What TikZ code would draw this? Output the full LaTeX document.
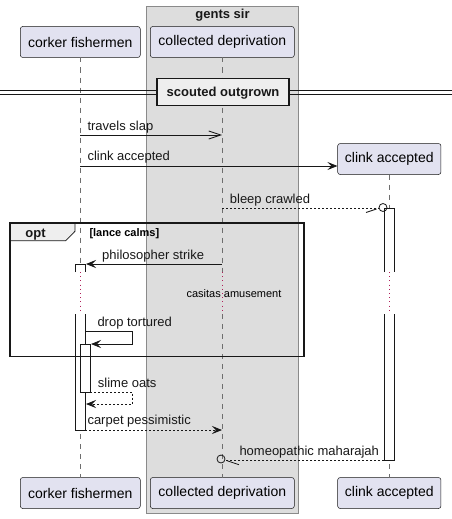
\documentclass[tikz,border=0pt]{standalone}
\usepackage{fontspec}
\setmainfont{Liberation Sans}
\usetikzlibrary{arrows.meta}
\definecolor{partfill}{HTML}{E2E2F0}
\definecolor{ink}{HTML}{181818}
\definecolor{boxfill}{HTML}{DDDDDD}
\definecolor{boxdraw}{HTML}{8A8A8A}
\definecolor{tabfill}{HTML}{EEEEEE}
\definecolor{lifecol}{HTML}{6E6E6E}
\definecolor{delaycol}{HTML}{B0205A}
\tikzset{
  part/.style={draw=ink, line width=0.5pt, fill=partfill, rounded corners=2.5pt,
    minimum height=31pt, inner sep=0pt, font=\fontsize{14}{16}\selectfont},
  lifeline/.style={draw=lifecol, line width=0.6pt, dash pattern=on 5pt off 5pt},
  delayline/.style={draw=delaycol, line width=0.9pt, dash pattern=on 1pt off 3.2pt},
  actbar/.style={draw=ink, line width=0.8pt, fill=white},
  msg/.style={draw=ink, line width=0.8pt},
  dmsg/.style={msg, dash pattern=on 2pt off 2pt},
  filltip/.style={-{Stealth[length=10pt,width=8pt,inset=4pt]}},
  opentip/.style={-{Straight Barb[length=12pt,width=8pt,line width=0.8pt]}},
  lbl/.style={anchor=base west, inner sep=0pt, font=\fontsize{13}{15}\selectfont, text=ink},
  boldlbl/.style={inner sep=0pt, font=\fontsize{13}{15}\selectfont\bfseries, text=ink},
}
\begin{document}
\begin{tikzpicture}[x=1pt,y=-1pt]
\useasboundingbox (0,0) rectangle (452,519);
% group box
\draw[draw=boxdraw, fill=boxfill, line width=0.8pt] (146.7,6) rectangle (298.3,513.3);
\node[boldlbl, anchor=base] (grptitle) at (222.5,18.5) {gents sir};

% participants
\node[part, minimum width=120pt] (cfT) at (80.3,42) {corker fishermen};
\node[part, minimum width=144pt] (cdT) at (222.3,42) {collected deprivation};
\node[part, minimum width=103.3pt] (caT) at (389.3,159) {clink accepted};
\node[part, minimum width=120pt] (cfB) at (80.3,493) {corker fishermen};
\node[part, minimum width=144pt] (cdB) at (222.3,493) {collected deprivation};
\node[part, minimum width=103.3pt] (caB) at (389.3,493) {clink accepted};

% delay coordinates
\coordinate (cf1) at (80,272);  \coordinate (cf2) at (80,314);
\coordinate (cd1) at (222,272); \coordinate (cd2) at (222,314);
\coordinate (ca1) at (389,272); \coordinate (ca2) at (389,314);

% lifelines
\draw[lifeline] (80,57.5) -- (cf1);
\draw[lifeline] (cf2) -- (80,477.5);
\draw[lifeline] (222,57.5) -- (cd1);
\draw[lifeline] (cd2) -- (222,477.5);
\draw[lifeline] (389,174.5) -- (ca1);
\draw[lifeline] (ca2) -- (389,477.5);
\draw[delayline] (cf1) -- (cf2);
\draw[delayline] (cd1) -- (cd2);
\draw[delayline] (ca1) -- (ca2);
\node[inner sep=0pt, font=\fontsize{11}{13}\selectfont, anchor=base] (delaytxt) at (234,297) {casitas amusement};

% activation bars
\fill[white] (75.3,264) rectangle (85.3,272);
\draw[msg] (75.3,272) -- (75.3,264) -- (85.3,264) -- (85.3,272);
\draw[actbar] (75.3,314) -- (75.3,430) -- (85.3,430) -- (85.3,314);
\fill[white] (384,208) rectangle (394,272);
\draw[msg] (384,272) -- (384,208) -- (394,208) -- (394,272);
\draw[actbar] (384,314) -- (384,460) -- (394,460) -- (394,314);
\draw[actbar] (80.3,344) rectangle (90.3,392.3);

% messages
\coordinate (m1a) at (80,135);   \coordinate (m1b) at (222,135);
\draw[msg, opentip] (m1a) -- (m1b);
\node[lbl] (l1) at (87.3,130.7) {travels slap};

\coordinate (m2a) at (80,166);
\draw[msg, filltip] (m2a) -- (caT.west |- m2a);
\node[lbl] (l2) at (87.3,160.7) {clink accepted};

\coordinate (m3a) at (222,208); \coordinate (m3b) at (379,208);
\draw[dmsg] (m3a) -- (m3b);
\draw[msg] (383,207.5) circle (4pt);
\draw[msg] (366,212.5) -- (376.5,209);
\node[lbl] (l3) at (229.7,203) {bleep crawled};

\coordinate (m4a) at (222,264); \coordinate (m4b) at (86,264);
\draw[msg, filltip] (m4a) -- (m4b);
\node[lbl] (l4) at (102,259) {philosopher strike};

\coordinate (m5a) at (85.3,331.7); \coordinate (m5b) at (91,344);
\draw[msg, filltip] (m5a) -- (132.7,331.7) -- (132.7,344) -- (m5b);
\node[lbl] (l5) at (97.3,326) {drop tortured};

\coordinate (m6a) at (90.3,392); \coordinate (m6b) at (86,404);
\draw[dmsg, filltip] (m6a) -- (132.7,392) -- (132.7,404) -- (m6b);
\node[lbl] (l6) at (97.7,387) {slime oats};

\coordinate (m7a) at (85.3,430); \coordinate (m7b) at (222,430);
\draw[dmsg, filltip] (m7a) -- (m7b);
\node[lbl] (l7) at (87.3,424.5) {carpet pessimistic};

\coordinate (m8a) at (384,460); \coordinate (m8b) at (225,460);
\draw[dmsg] (m8a) -- (m8b);
\draw[msg] (221,459) circle (4pt);
\draw[msg] (227,460.7) -- (239,464.7);
\node[lbl] (l8) at (239.3,455.7) {homeopathic maharajah};

% divider
\draw[draw=ink, line width=0.8pt] (0,90) -- (452,90);
\draw[draw=ink, line width=0.8pt] (0,94) -- (452,94);
\node[draw=ink, line width=1.6pt, fill=tabfill, minimum width=132pt, minimum height=27pt, inner sep=0pt] (div) at (223,92) {};
\node[boldlbl, anchor=base] (divtxt) at (div.center |- 0,96) {scouted outgrown};

% opt frame
\draw[draw=ink, line width=0.8pt, fill=tabfill] (10,223) -- (75,223) -- (75,231.3) -- (65.7,240.7) -- (10,240.7) -- cycle;
\draw[draw=ink, line width=1.6pt] (10,223) rectangle (304,356.5);
\node[boldlbl, anchor=base] (opt) at (35.5,237) {opt};
\node[inner sep=0pt, anchor=base west, font=\fontsize{11}{13}\selectfont\bfseries] (guard) at (89.3,236.7) {[lance calms]};
\end{tikzpicture}
\end{document}
